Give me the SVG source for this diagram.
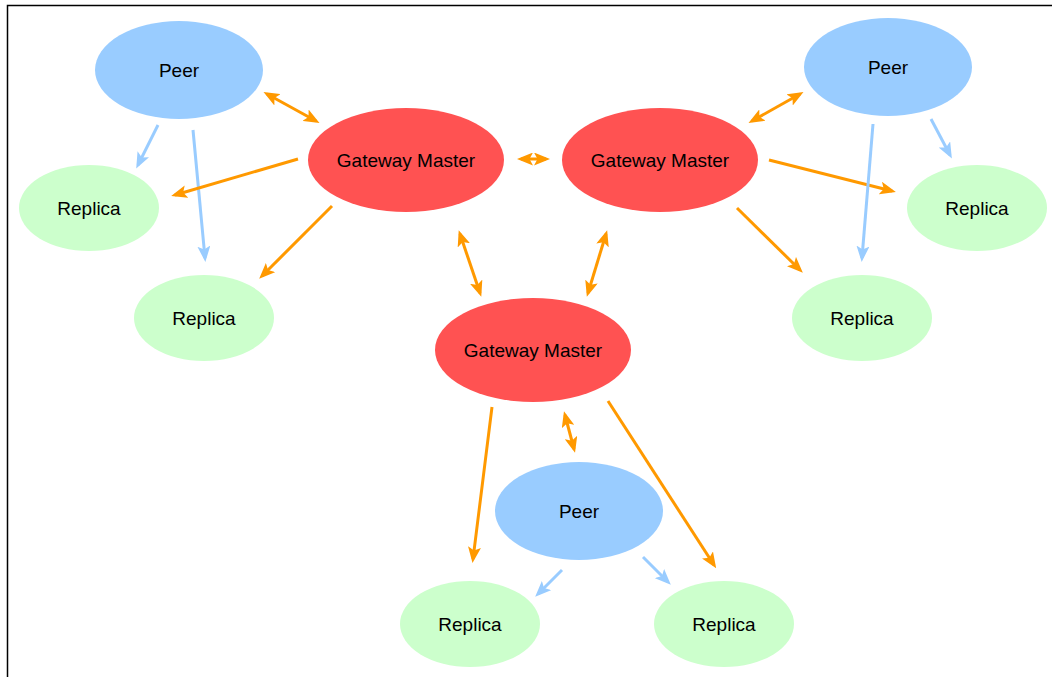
<svg xmlns="http://www.w3.org/2000/svg" width="1052" height="677" viewBox="0 0 1052 677">
<style>
.peer{fill:#99ccff}
.gm{fill:#ff5252}
.rep{fill:#ccffcc}
text{font-family:"Liberation Sans",Arial,sans-serif;font-size:19px;fill:#000;text-anchor:middle;dominant-baseline:central}
.o{stroke:#ff9900;stroke-width:3;fill:none}
.b{stroke:#99ccff;stroke-width:3;fill:none}
.o1{marker-end:url(#ao)}
.o2{marker-end:url(#ao);marker-start:url(#ao)}
.b1{marker-end:url(#ab)}
</style>
<defs>
<marker id="ao" viewBox="0 0 16 13" refX="12" refY="6.5" markerWidth="16" markerHeight="13" markerUnits="userSpaceOnUse" orient="auto-start-reverse"><path d="M0,0 L16,6.5 L0,13 L3.5,6.5 Z" fill="#ff9900"/></marker>
<marker id="ab" viewBox="0 0 16 13" refX="12" refY="6.5" markerWidth="16" markerHeight="13" markerUnits="userSpaceOnUse" orient="auto-start-reverse"><path d="M0,0 L16,6.5 L0,13 L3.5,6.5 Z" fill="#99ccff"/></marker>
</defs>
<rect width="1052" height="677" fill="#fff"/>
<path d="M7.5,677 V5.5 H1052" stroke="#000" stroke-width="1.5" fill="none"/>
<g id="connectors">
<line class="o o2" x1="267" y1="94" x2="316" y2="121"/>
<line class="b b1" x1="158" y1="125" x2="138" y2="165"/>
<line class="b b1" x1="193" y1="130" x2="205" y2="258"/>
<line class="o o1" x1="298" y1="159" x2="175" y2="195"/>
<line class="o o1" x1="332" y1="206" x2="262" y2="276"/>
<line class="o o2" x1="521" y1="159" x2="546" y2="159"/>
<line class="o o2" x1="460" y1="234" x2="480" y2="293"/>
<line class="o o2" x1="606" y1="234" x2="588" y2="293"/>
<line class="o o2" x1="752" y1="121" x2="800" y2="94"/>
<line class="o o1" x1="769" y1="160" x2="892" y2="191"/>
<line class="o o1" x1="737" y1="208" x2="800" y2="270"/>
<line class="b b1" x1="931" y1="119" x2="950" y2="155"/>
<line class="b b1" x1="873" y1="124" x2="862" y2="258"/>
<line class="o o1" x1="492" y1="407" x2="473" y2="559"/>
<line class="o o1" x1="608" y1="401" x2="714" y2="565"/>
<line class="o o2" x1="565" y1="415" x2="574" y2="449"/>
<line class="b b1" x1="562" y1="570" x2="538" y2="594"/>
<line class="b b1" x1="643" y1="557" x2="668" y2="582"/>
</g>
<g id="peer-tl"><ellipse class="peer" cx="179" cy="70" rx="84" ry="49"/><text x="179" y="70">Peer</text></g>
<g id="peer-tr"><ellipse class="peer" cx="888" cy="67" rx="84" ry="49"/><text x="888" y="67">Peer</text></g>
<g id="peer-b"><ellipse class="peer" cx="579" cy="511" rx="84" ry="49"/><text x="579" y="511">Peer</text></g>
<g id="gm-l"><ellipse class="gm" cx="406" cy="160" rx="98" ry="52"/><text x="406" y="160">Gateway Master</text></g>
<g id="gm-r"><ellipse class="gm" cx="660" cy="160" rx="98" ry="52"/><text x="660" y="160">Gateway Master</text></g>
<g id="gm-b"><ellipse class="gm" cx="533" cy="350" rx="98" ry="52"/><text x="533" y="350">Gateway Master</text></g>
<g id="rep-tl"><ellipse class="rep" cx="89" cy="208" rx="70" ry="43"/><text x="89" y="208">Replica</text></g>
<g id="rep-l2"><ellipse class="rep" cx="204" cy="318" rx="70" ry="43"/><text x="204" y="318">Replica</text></g>
<g id="rep-r1"><ellipse class="rep" cx="977" cy="208" rx="70" ry="43"/><text x="977" y="208">Replica</text></g>
<g id="rep-r2"><ellipse class="rep" cx="862" cy="318" rx="70" ry="43"/><text x="862" y="318">Replica</text></g>
<g id="rep-b1"><ellipse class="rep" cx="470" cy="624" rx="70" ry="43"/><text x="470" y="624">Replica</text></g>
<g id="rep-b2"><ellipse class="rep" cx="724" cy="624" rx="70" ry="43"/><text x="724" y="624">Replica</text></g>
</svg>
